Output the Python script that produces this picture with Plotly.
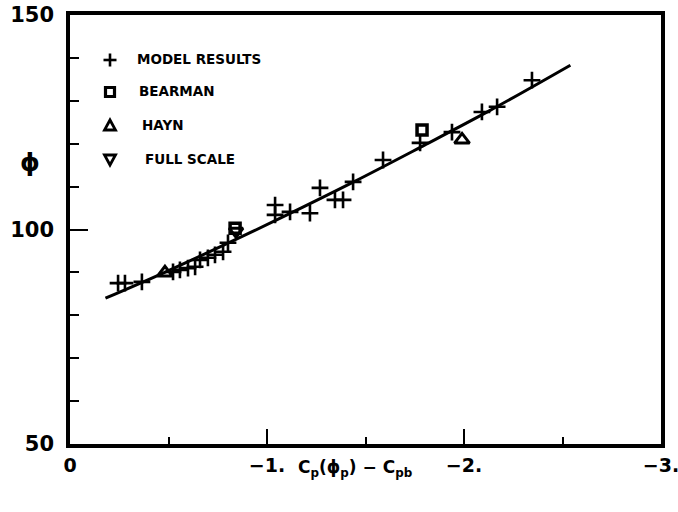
import plotly.graph_objects as go

# Model results (C_p(phi_p) - C_pb, phi)
model_x = [-0.244, -0.279, -0.365, -0.523, -0.558, -0.599, -0.635, -0.660, -0.700,
           -0.736, -0.777, -0.802, -1.041, -1.041, -1.117, -1.218, -1.269, -1.345,
           -1.386, -1.437, -1.589, -1.777, -1.939, -2.091, -2.168, -2.345]
model_y = [87.5, 87.5, 87.8, 90.1, 90.6, 91.0, 91.3, 92.9, 93.4,
           94.1, 94.8, 96.9, 105.7, 103.4, 104.1, 103.8, 109.7, 106.9,
           106.9, 111.1, 116.2, 120.2, 122.7, 127.4, 128.6, 134.8]

bearman_x = [-0.838, -1.787]
bearman_y = [100.3, 123.2]

hayn_x = [-0.482, -1.990]
hayn_y = [89.9, 120.9]

full_scale_x = [-0.843]
full_scale_y = [99.6]

# Faired curve through the data
fit_x = [-0.18, -0.47, -0.81, -1.07, -1.44, -1.78, -2.13, -2.54]
fit_y = [84.0, 89.8, 97.0, 102.7, 111.1, 119.2, 127.7, 138.3]

x_ticks = [0, -1, -2, -3]
x_tick_text = ["0", "−1.", "−2.", "−3."]
x_minor = [-0.5, -1.5, -2.5]
y_ticks = [50, 100, 150]
y_minor = [60, 70, 80, 90, 110, 120, 130, 140]

legend_items = ["MODEL RESULTS", "BEARMAN", "HAYN", "FULL SCALE"]

W, H = 678, 512
L, R, T, B = 70, 17, 15, 68
PW, PH = W - L - R, H - T - B


def fx(px):
    return (px - L) / PW


def fy(py):
    return (H - B - py) / PH


FONT = "DejaVu Sans"

fig = go.Figure()

fig.add_trace(go.Scatter(x=fit_x, y=fit_y, mode="lines", line=dict(color="black", width=3, shape="spline"),
                         showlegend=False, hoverinfo="skip"))
fig.add_trace(go.Scatter(x=model_x, y=model_y, mode="markers", name="MODEL RESULTS",
                         marker=dict(symbol="cross-thin-open", size=12, color="black",
                                     line=dict(color="black", width=2.6)),
                         showlegend=False))
fig.add_trace(go.Scatter(x=full_scale_x, y=full_scale_y, mode="markers", name="FULL SCALE",
                         marker=dict(symbol="triangle-down-open", size=12, color="black",
                                     line=dict(color="black", width=3)),
                         showlegend=False))
fig.add_trace(go.Scatter(x=bearman_x, y=bearman_y, mode="markers", name="BEARMAN",
                         marker=dict(symbol="square-open", size=10, color="black",
                                     line=dict(color="black", width=3.5)),
                         showlegend=False))
fig.add_trace(go.Scatter(x=hayn_x, y=hayn_y, mode="markers", name="HAYN",
                         marker=dict(symbol="triangle-up-open", size=13, color="black",
                                     line=dict(color="black", width=3)),
                         showlegend=False))

# Hand-drawn key inside the frame
shapes = []
kx = 110
# plus
shapes.append(dict(type="line", xref="paper", yref="paper", x0=fx(kx - 6.5), x1=fx(kx + 6.5), y0=fy(60), y1=fy(60),
                   line=dict(color="black", width=2.6)))
shapes.append(dict(type="line", xref="paper", yref="paper", x0=fx(kx), x1=fx(kx), y0=fy(53.5), y1=fy(66.5),
                   line=dict(color="black", width=2.6)))
# square
shapes.append(dict(type="rect", xref="paper", yref="paper", x0=fx(kx - 4.5), x1=fx(kx + 4.5), y0=fy(87.5), y1=fy(96.5),
                   line=dict(color="black", width=3.2)))
# up triangle
shapes.append(dict(type="path", xref="paper", yref="paper",
                   path=f"M {fx(kx - 5.5)} {fy(130)} L {fx(kx + 5.5)} {fy(130)} L {fx(kx)} {fy(120)} Z",
                   line=dict(color="black", width=2.8)))
# down triangle
shapes.append(dict(type="path", xref="paper", yref="paper",
                   path=f"M {fx(kx - 5.5)} {fy(155)} L {fx(kx + 5.5)} {fy(155)} L {fx(kx)} {fy(165)} Z",
                   line=dict(color="black", width=2.8)))

annotations = []
key_pos = [(135, 59), (137, 91), (140, 125), (143, 159)]
for text, (px, py) in zip(legend_items, key_pos):
    annotations.append(dict(text=text, xref="paper", yref="paper", x=fx(px), y=fy(py), xanchor="left",
                            yanchor="middle", showarrow=False,
                            font=dict(family=FONT, size=13.5, color="black", weight="bold")))

# axis titles
annotations.append(dict(text="ϕ", xref="paper", yref="paper", x=fx(30), y=fy(162), xanchor="center",
                        yanchor="middle", showarrow=False,
                        font=dict(family=FONT, size=25, color="black", weight="bold")))
annotations.append(dict(text="C<sub>p</sub>(ϕ<sub>p</sub>) − C<sub>pb</sub>", xref="paper", yref="paper",
                        x=fx(355), y=fy(468), xanchor="center", yanchor="middle", showarrow=False,
                        font=dict(family=FONT, size=17, color="black", weight="bold")))

fig.update_layout(
    width=W, height=H,
    margin=dict(l=L, r=R, t=T, b=B, pad=0, autoexpand=False),
    paper_bgcolor="white", plot_bgcolor="white",
    shapes=shapes, annotations=annotations,
    showlegend=False,
)

fig.update_xaxes(
    range=[0, -3], tickvals=x_ticks, ticktext=x_tick_text, automargin=False,
    ticks="inside", ticklen=15, tickwidth=2, tickcolor="black",
    showline=True, linewidth=3.5, linecolor="black", mirror=True,
    showgrid=False, zeroline=False, ticklabelstandoff=1, ticklabeloverflow="allow",
    tickfont=dict(family=FONT, size=19, color="black", weight="bold"),
    minor=dict(tickvals=x_minor, ticks="inside", ticklen=7, tickwidth=2, tickcolor="black", showgrid=False),
)
fig.update_yaxes(
    range=[50, 150], tickvals=y_ticks, automargin=False,
    ticks="inside", ticklen=18, tickwidth=2, tickcolor="black",
    showline=True, linewidth=3.5, linecolor="black", mirror=True,
    showgrid=False, zeroline=False, ticklabelstandoff=8, ticklabeloverflow="allow",
    tickfont=dict(family=FONT, size=21, color="black", weight="bold"),
    minor=dict(tickvals=y_minor, ticks="inside", ticklen=9, tickwidth=2, tickcolor="black", showgrid=False),
)

fig.write_html("out.html")
